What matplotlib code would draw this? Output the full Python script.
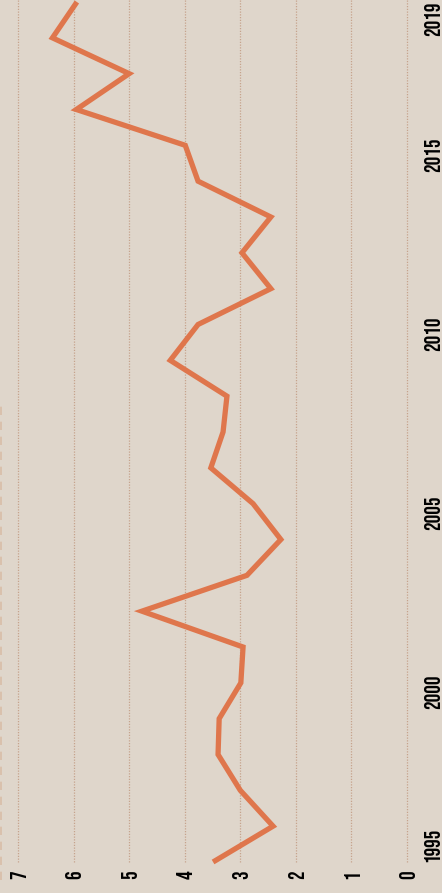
import matplotlib
matplotlib.use('Agg')
import matplotlib.pyplot as plt
from matplotlib.lines import Line2D

years = list(range(1995, 2020))
values = [3.49, 2.41, 3.00, 3.40, 3.38, 2.99, 2.95, 4.77, 2.88, 2.27,
          2.77, 3.53, 3.31, 3.24, 4.26, 3.76, 2.45, 2.97, 2.45, 3.76,
          3.99, 5.95, 5.00, 6.38, 5.94]
year_ticks = [1995, 2000, 2005, 2010, 2015, 2019]
value_ticks = [0, 1, 2, 3, 4, 5, 6, 7]

bg = '#dfd6cb'
line_color = '#df764c'
grid_color = '#c6a38c'

W, H = 442, 893
fig = plt.figure(figsize=(W / 100, H / 100), dpi=100)
fig.patch.set_facecolor(bg)

# axes placed in pixels: value 7 at x=18, 0 at x=407 ; 2019 at y=2, 1995 at y=862
ax = fig.add_axes([18 / W, (H - 862) / H, (407 - 18) / W, (862 - 2) / H])
ax.set_facecolor(bg)
ax.set_xlim(7, 0)
ax.set_ylim(1995, 2019)

for v in value_ticks:
    ax.plot([v, v], [1995, 2019.1], linestyle=(0, (1, 1.2)), color=grid_color,
            linewidth=0.9, clip_on=False, zorder=1)

ax.plot(values, years, color=line_color, linewidth=3.8, solid_joinstyle='miter',
        solid_capstyle='butt', clip_on=False, zorder=3)

for s in ax.spines.values():
    s.set_visible(False)

font = dict(family=['Bebas Neue', 'DejaVu Sans'], size=15.5)

ax.set_xticks(value_ticks)
ax.set_xticklabels([str(v) for v in value_ticks], rotation=90, **font)
ax.tick_params(axis='x', length=0, pad=6, colors='black')

ax.yaxis.tick_right()
ax.set_yticks(year_ticks)
ax.set_yticklabels([str(y) for y in year_ticks], rotation=90, **font)
ax.tick_params(axis='y', length=0, pad=12, colors='black')
labels = ax.get_yticklabels()
labels[0].set_va('bottom')
labels[-1].set_va('top')

# faint dashed edge at the far left
fig.add_artist(Line2D([0.8 / W, 0.8 / W], [1 - 880 / H, 1 - 405 / H],
                      transform=fig.transFigure, color='#d8bda8',
                      linewidth=1.2, linestyle=(0, (5, 4))))

plt.savefig('out.png', dpi=100, facecolor=bg)
